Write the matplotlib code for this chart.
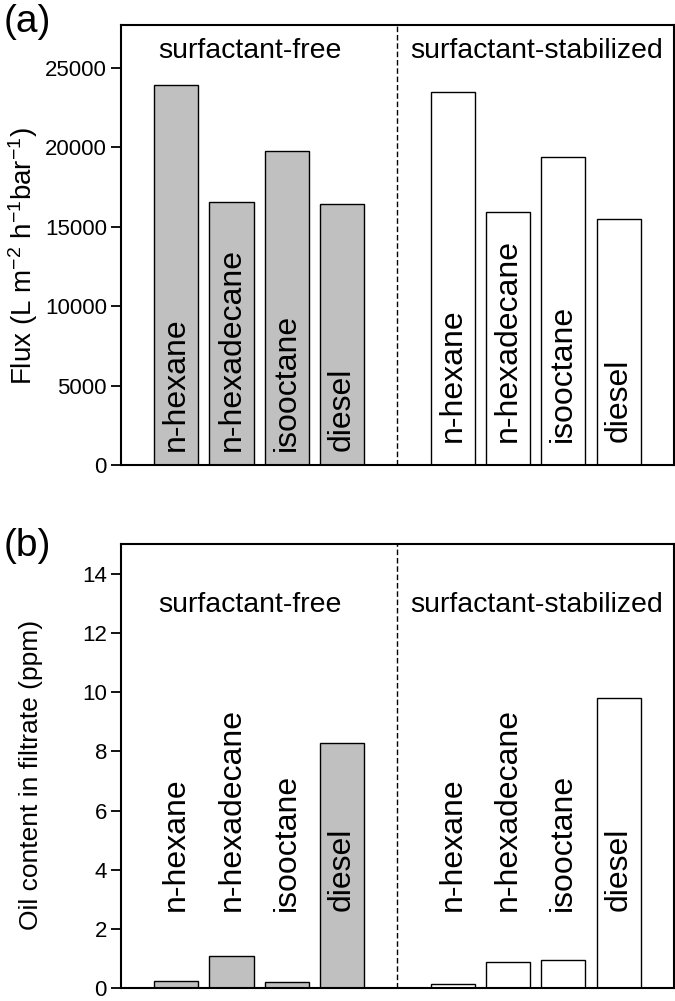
import matplotlib.pyplot as plt
import numpy as np

plt.rcParams['font.family'] = ['Liberation Sans', 'DejaVu Sans']
plt.rcParams['mathtext.fontset'] = 'custom'
plt.rcParams['mathtext.rm'] = 'Liberation Sans'
plt.rcParams['mathtext.default'] = 'regular'

# data
oils = ['n-hexane', 'n-hexadecane', 'isooctane', 'diesel']
groups = ['surfactant-free', 'surfactant-stabilized']
flux_free = [23900, 16580, 19780, 16400]
flux_stab = [23500, 15900, 19400, 15500]
oil_free = [0.26, 1.11, 0.22, 8.27]
oil_stab = [0.15, 0.89, 0.97, 9.80]
flux_ticks = [0, 5000, 10000, 15000, 20000, 25000]
oil_ticks = [0, 2, 4, 6, 8, 10, 12, 14]

pos_free = np.arange(4)
pos_stab = np.arange(4) + 5

fig = plt.figure(figsize=(6.75, 10.01), dpi=100)
ax1 = fig.add_axes([0.179, 0.5355, 0.8195, 0.4395])
ax2 = fig.add_axes([0.179, 0.0125, 0.8195, 0.444])


def style(ax, ymax, ticks):
    ax.set_xlim(-1, 9)
    ax.set_ylim(0, ymax)
    ax.set_xticks([])
    ax.set_yticks(ticks)
    ax.tick_params(axis='y', direction='out', length=7, width=1.3,
                   labelsize=16, pad=3)
    for s in ax.spines.values():
        s.set_linewidth(1.5)
    ax.axvline(4, color='black', lw=1, ls=(0, (4, 2)))


# panel (a)
ax1.bar(pos_free, flux_free, width=0.8, color='#c0c0c0', edgecolor='black', lw=1)
ax1.bar(pos_stab, flux_stab, width=0.8, color='white', edgecolor='black', lw=1)
style(ax1, 27700, flux_ticks)
for p, name in zip(pos_free, oils):
    ax1.text(p, 900, name, rotation=90, ha='center', va='bottom', fontsize=23)
for p, name in zip(pos_stab, oils):
    ax1.text(p, 1450, name, rotation=90, ha='center', va='bottom', fontsize=23)
ax1.text(1.33, 25630, groups[0], ha='center', va='baseline', fontsize=20.5)
ax1.text(6.52, 25630, groups[1], ha='center', va='baseline', fontsize=20.5)
fig.text(0.034, 0.7443, 'Flux (L m$^{-2}$ h$^{-1}$bar$^{-1}$)', rotation=90,
         ha='center', va='center', fontsize=20)
fig.text(0.006, 0.9785, '(a)', ha='left', va='center', fontsize=28)

# panel (b)
ax2.bar(pos_free, oil_free, width=0.8, color='#c0c0c0', edgecolor='black', lw=1)
ax2.bar(pos_stab, oil_stab, width=0.8, color='white', edgecolor='black', lw=1)
style(ax2, 15, oil_ticks)
for p, name in zip(list(pos_free) + list(pos_stab), oils + oils):
    ax2.text(p, 2.6, name, rotation=90, ha='center', va='bottom', fontsize=23)
ax2.text(1.33, 12.7, groups[0], ha='center', va='baseline', fontsize=20.5)
ax2.text(6.52, 12.7, groups[1], ha='center', va='baseline', fontsize=20.5)
fig.text(0.046, 0.2258, 'Oil content in filtrate (ppm)', rotation=90,
         ha='center', va='center', fontsize=19)
fig.text(0.006, 0.4545, '(b)', ha='left', va='center', fontsize=28)

fig.savefig('out.png', dpi=100)
